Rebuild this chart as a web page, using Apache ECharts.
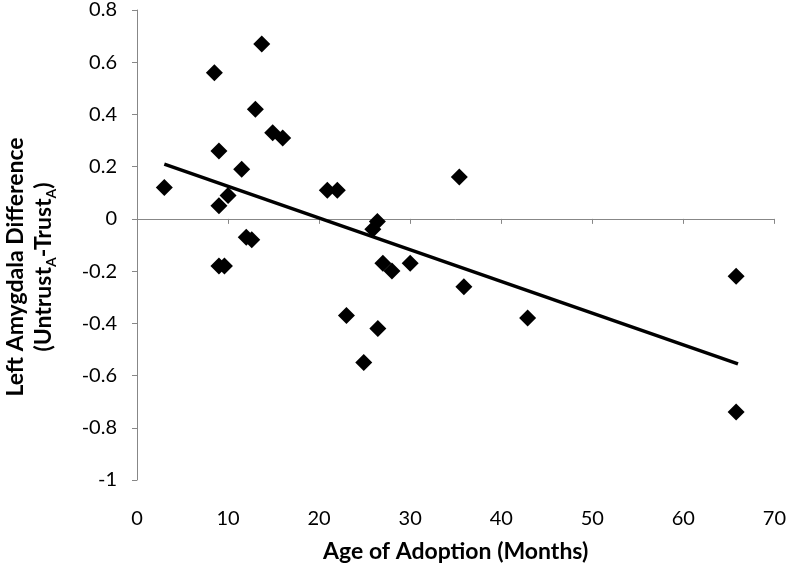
<!DOCTYPE html>
<html>
<head>
<meta charset="utf-8">
<script src="https://cdn.jsdelivr.net/npm/echarts@6/dist/echarts.min.js"></script>
<style>
html,body{margin:0;padding:0;background:#fff;}
#c{width:789px;height:568px;}
</style>
</head>
<body>
<div id="c"></div>
<script>
// ---- data ----
const ageMonths = [3, 8.5, 9, 9, 10, 9, 9.6, 11.5, 12, 12.6, 13, 13.7, 14.9, 16, 20.9, 22, 23, 24.9, 25.9, 26.4, 26.45, 27, 28, 30, 35.4, 35.9, 42.9, 65.8, 65.8];
const amygdalaDiff = [0.12, 0.56, 0.26, 0.05, 0.09, -0.18, -0.18, 0.19, -0.07, -0.08, 0.42, 0.67, 0.33, 0.31, 0.11, 0.11, -0.37, -0.55, -0.04, -0.01, -0.42, -0.17, -0.20, -0.17, 0.16, -0.26, -0.38, -0.22, -0.74];
const trendX = [3, 66];
const trendY = [0.21, -0.555];
const xTickRange = [0, 70, 10];   // min, max, step
const yTickRange = [-1, 0.8, 0.2];
const xTitle = 'Age of Adoption (Months)';
const yTitleLine1 = 'Left Amygdala Difference';
const yTitleLine2 = ['(Untrust', 'A', '-Trust', 'A', ')'];

const FONT = 'Lato';
const AXIS_GRAY = '#878787';

const scatterData = ageMonths.map((x, i) => [x, amygdalaDiff[i]]);
const trendData = trendX.map((x, i) => [x, trendY[i]]);

const chart = echarts.init(document.getElementById('c'));
chart.setOption({
  animation: false,
  backgroundColor: '#fff',
  grid: { left: 137, right: 8, top: 6, bottom: 88, containLabel: false },
  xAxis: [
    {
      type: 'value', min: xTickRange[0], max: xTickRange[1], interval: xTickRange[2],
      position: 'bottom',
      axisLine: { show: false, onZero: false },
      axisTick: { show: false },
      splitLine: { show: false },
      axisLabel: { margin: 29, fontSize: 20, fontFamily: FONT, color: '#000' },
      name: xTitle, nameLocation: 'middle', nameGap: 60,
      nameTextStyle: { fontSize: 23, fontWeight: 'bold', fontFamily: FONT, color: '#000' }
    },
    {
      type: 'value', min: xTickRange[0], max: xTickRange[1], interval: xTickRange[2],
      position: 'bottom',
      axisLine: { show: true, onZero: true, lineStyle: { color: AXIS_GRAY, width: 1 } },
      axisTick: { show: true, inside: false, length: 5, lineStyle: { color: AXIS_GRAY } },
      axisLabel: { show: false },
      splitLine: { show: false }
    }
  ],
  yAxis: {
    type: 'value', min: yTickRange[0], max: yTickRange[1], interval: yTickRange[2],
    axisLine: { show: true, onZero: false, lineStyle: { color: AXIS_GRAY, width: 1 } },
    axisTick: { show: true, inside: false, length: 5, lineStyle: { color: AXIS_GRAY } },
    splitLine: { show: false },
    axisLabel: { margin: 20, fontSize: 20, fontFamily: FONT, color: '#000' }
  },
  graphic: [{
    type: 'text',
    x: 30, y: 267,
    rotation: Math.PI / 2,
    style: {
      text: '{t|' + yTitleLine1 + '}\n{t|' + yTitleLine2[0] + '}{s|' + yTitleLine2[1] + '}{t|' + yTitleLine2[2] + '}{s|' + yTitleLine2[3] + '}{t|' + yTitleLine2[4] + '}',
      align: 'center',
      verticalAlign: 'middle',
      rich: {
        t: { fontSize: 23, fontWeight: 'bold', fontFamily: FONT, fill: '#000', lineHeight: 28, verticalAlign: 'middle' },
        s: { fontSize: 14, fontWeight: 'bold', fontFamily: FONT, fill: '#000', lineHeight: 14, verticalAlign: 'bottom' }
      }
    }
  }],
  series: [
    {
      type: 'line', xAxisIndex: 0, data: trendData, symbol: 'none',
      lineStyle: { color: '#000', width: 3.5 }, z: 2, silent: true
    },
    {
      type: 'scatter', xAxisIndex: 0, data: scatterData, symbol: 'diamond', symbolSize: 17,
      itemStyle: { color: '#000', opacity: 1 }, z: 3
    }
  ]
});
</script>
</body>
</html>
